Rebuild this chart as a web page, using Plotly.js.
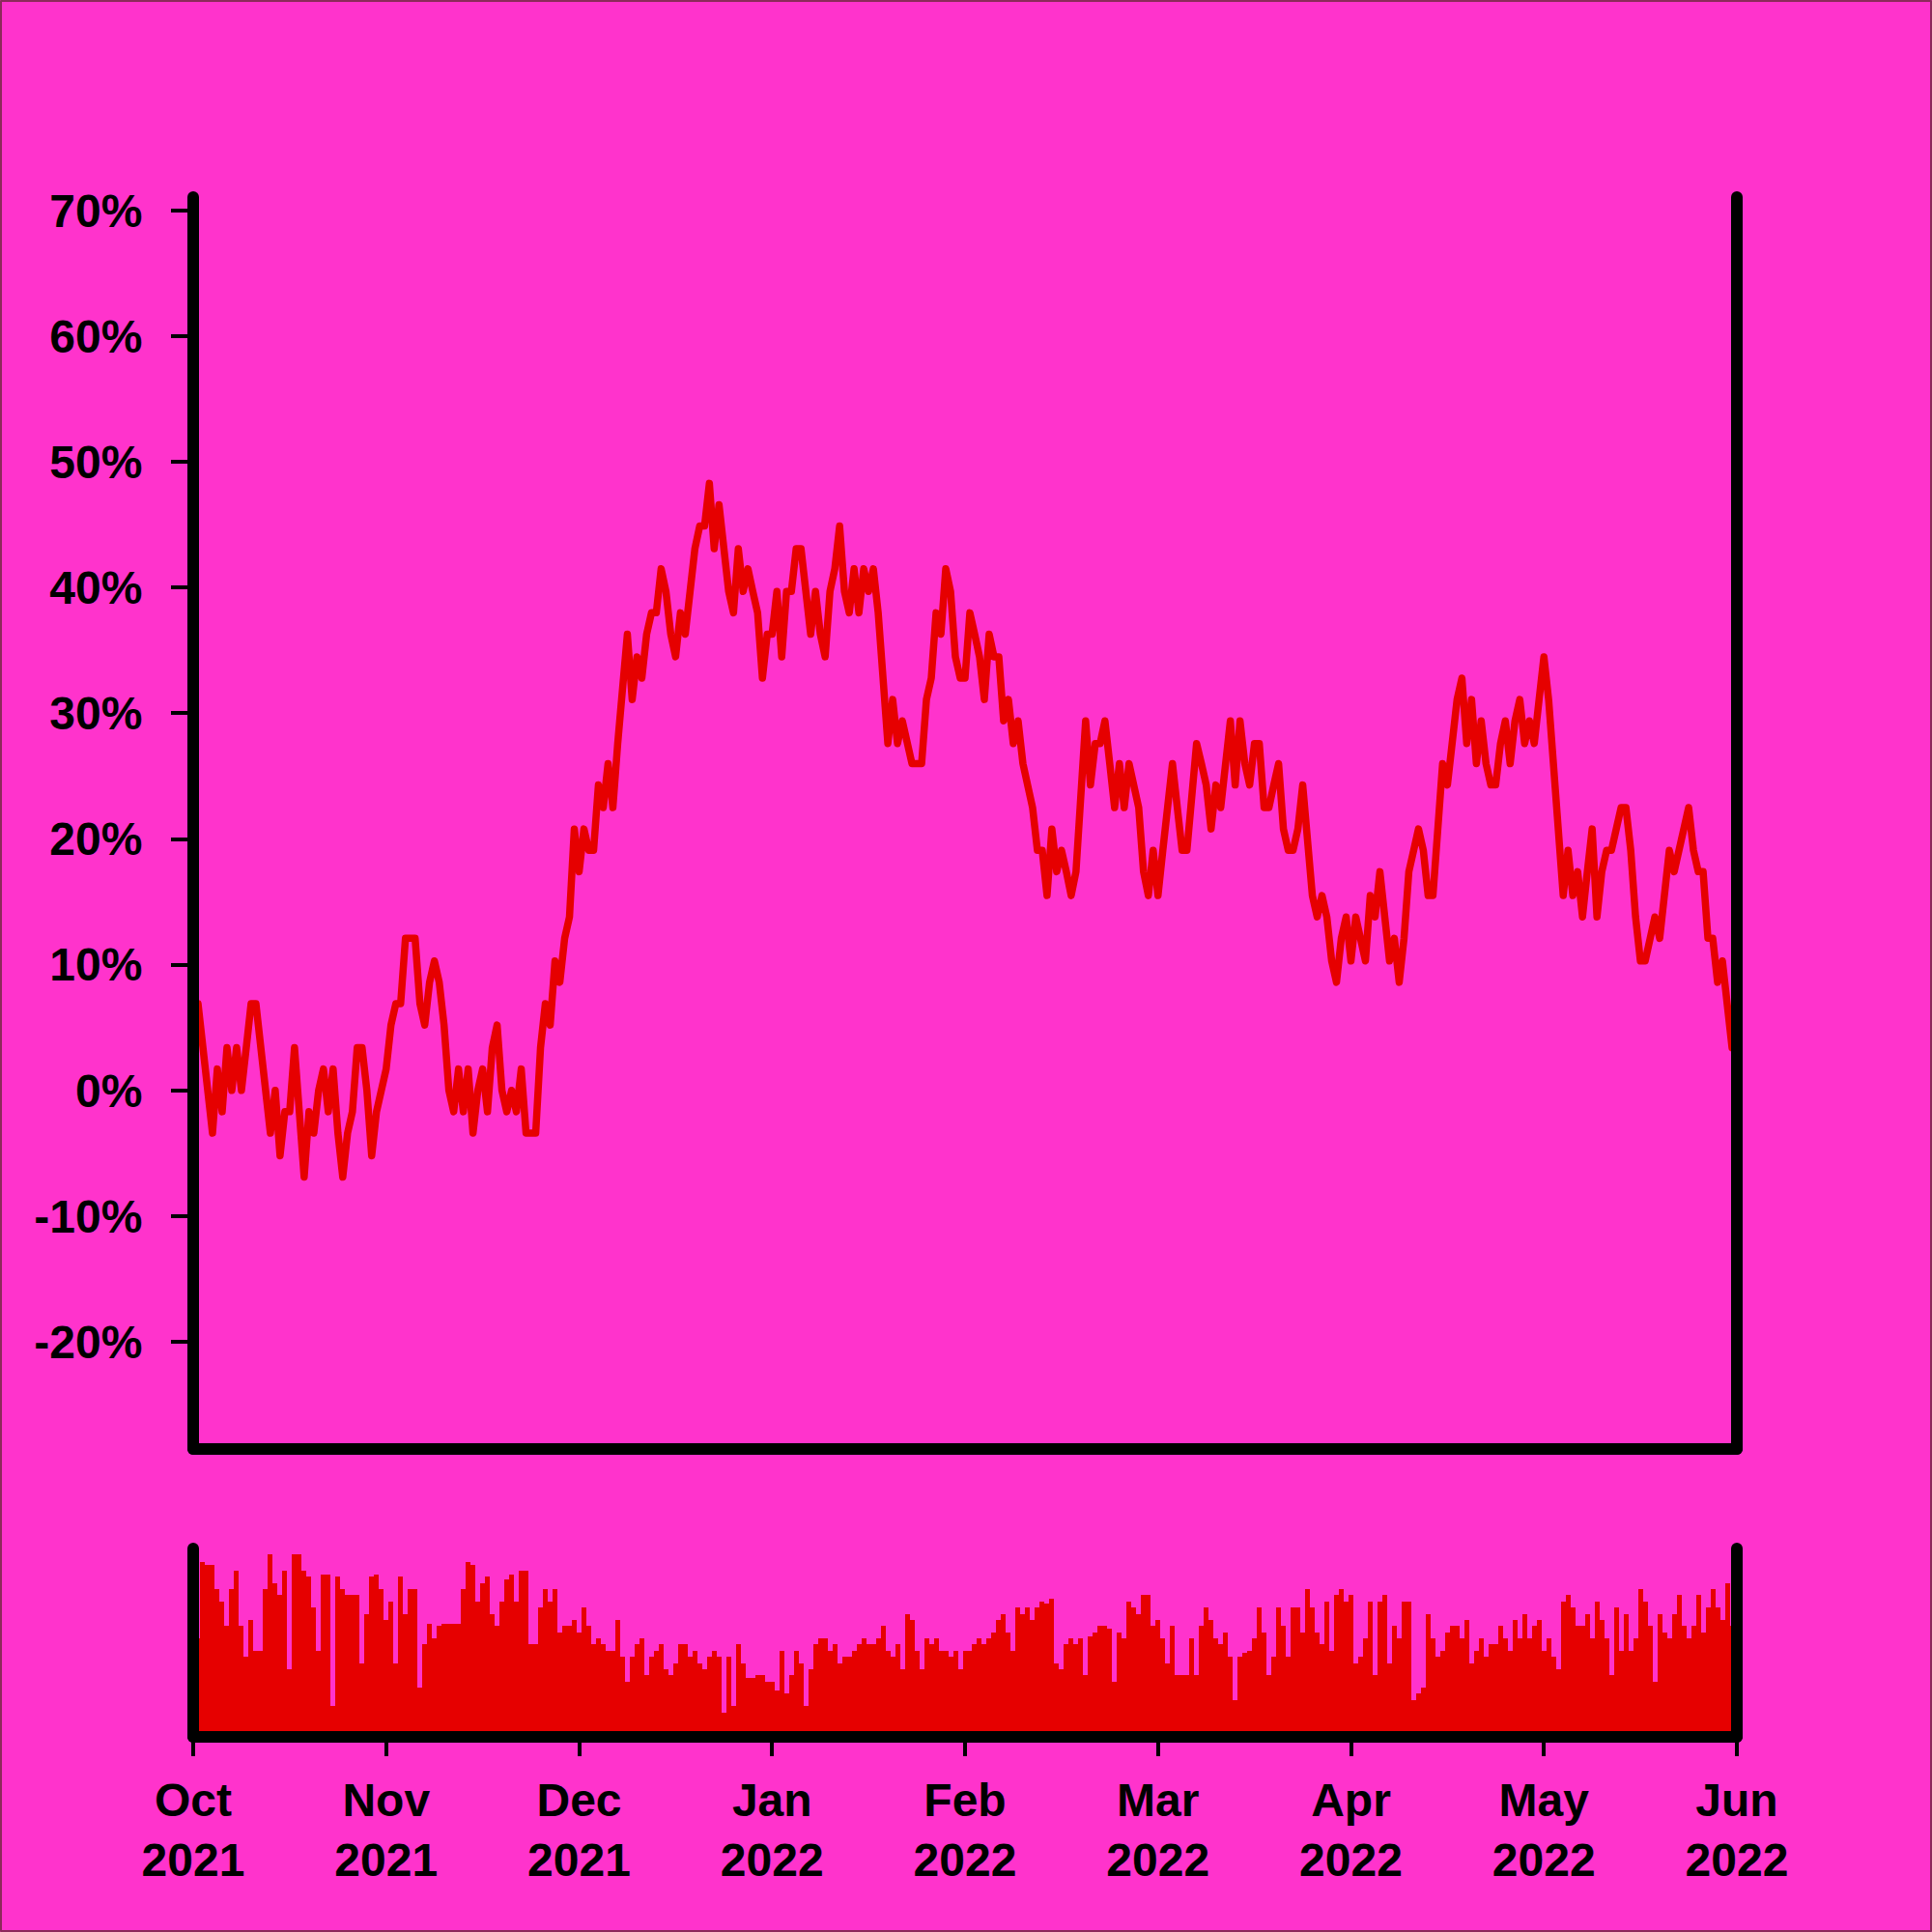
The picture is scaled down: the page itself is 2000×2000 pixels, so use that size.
<!DOCTYPE html>
<html>
<head>
<meta charset="utf-8">
<script src="https://cdn.plot.ly/plotly-3.0.1.min.js"></script>
<style>
html,body{margin:0;padding:0;background:#FF33CC;}
#chart{width:2000px;height:2000px;}
#chart path.js-line{stroke-linejoin:round !important;stroke-linecap:round !important;}
#chart .shapelayer path{stroke-linecap:round !important;stroke-linejoin:round !important;}
</style>
</head>
<body>
<div id="chart"></div>
<script>
// Month tick labels (evenly spaced on the index axis)
const monthLabels = ['Oct<br>2021','Nov<br>2021','Dec<br>2021','Jan<br>2022','Feb<br>2022','Mar<br>2022','Apr<br>2022','May<br>2022','Jun<br>2022'];
const pointsPerMonth = 40;

// Cumulative change, %
const changePct = [
  6.9, 3.4, 0, -3.4, 1.7, -1.7, 3.4, 0, 3.4, 0,
  3.4, 6.9, 6.9, 3.4, 0, -3.4, 0, -5.2, -1.7, -1.7,
  3.4, -1.7, -6.9, -1.7, -3.4, 0, 1.7, -1.7, 1.7, -3.4,
  -6.9, -3.4, -1.7, 3.4, 3.4, 0, -5.2, -1.7, 0,
  1.7, 5.2, 6.9, 6.9, 12.1, 12.1, 12.1, 6.9, 5.2, 8.6, 10.3,
  8.6, 5.2, 0, -1.7, 1.7, -1.7, 1.7, -3.4, 0, 1.7,
  -1.7, 3.4, 5.2, 0, -1.7, 0, -1.7, 1.7, -3.4, -3.4,
  -3.4, 3.4, 6.9, 5.2, 10.3, 8.6, 12.1, 13.8, 20.8, 17.4,
  20.8, 19.1, 19.1, 24.3, 22.5, 26, 22.5, 27.6, 32, 36.3,
  31.1, 34.5, 32.8, 36.3, 38, 38, 41.5, 39.7, 36.3, 34.5,
  38, 36.3, 39.7, 43.1, 44.9, 44.9, 48.3, 43.1, 46.6, 43.1,
  39.7, 38, 43.1, 39.7, 41.5, 39.7, 38, 32.8, 36.3, 36.3,
  39.7, 34.5, 39.7, 39.7, 43.1, 43.1, 39.7, 36.3, 39.7, 36.3,
  34.5, 39.7, 41.5, 44.9, 39.7, 38, 41.5, 38, 41.5, 39.7,
  41.5, 38, 32.8, 27.6, 31.1, 27.6, 29.4, 27.6, 26, 26,
  26, 31.1, 32.8, 38, 36.3, 41.5, 39.7, 34.5, 32.8, 32.8,
  38, 36.3, 34.5, 31.1, 36.3, 34.5, 34.5, 29.4, 31.1, 27.6,
  29.4, 26, 24.3, 22.5, 19.1, 19.1, 15.5, 20.8, 17.4, 19.1,
  17.4, 15.5, 17.4, 22.5, 29.4, 24.3, 27.6, 27.6, 29.4, 26,
  22.5, 26, 22.5, 26, 24.3, 22.5, 17.4, 15.5, 19.1, 15.5,
  19.1, 22.5, 26, 22.5, 19.1, 19.1, 24.3, 27.6, 26, 24.3,
  20.8, 24.3, 22.5, 26, 29.4, 24.3, 29.4, 26, 24.3, 27.6,
  27.6, 22.5, 22.5, 24.3, 26, 20.8, 19.1, 19.1, 20.8, 24.3,
  19.1, 15.5, 13.8, 15.5, 13.8, 10.3, 8.6, 12.1, 13.8, 10.3,
  13.8, 12.1, 10.3, 15.5, 13.8, 17.4, 13.8, 10.3, 12.1, 8.6,
  12.1, 17.4, 19.1, 20.8, 19.1, 15.5, 15.5, 20.8, 26, 24.3,
  27.6, 31.1, 32.8, 27.6, 31.1, 26, 29.4, 26, 24.3, 24.3,
  27.6, 29.4, 26, 29.4, 31.1, 27.6, 29.4, 27.6, 31.1, 34.5,
  31, 26, 20.8, 15.5, 19.1, 15.5, 17.4, 13.8, 17.4, 20.8,
  13.8, 17.4, 19.1, 19.1, 20.8, 22.5, 22.5, 19.1, 13.8, 10.3,
  10.3, 12.1, 13.8, 12.1, 15.5, 19.1, 17.4, 19.1, 20.8, 22.5,
  19.1, 17.4, 17.4, 12.1, 12.1, 8.6, 10.3, 6.9, 3.4
];

// Volume (arbitrary units)
const volume = [
  80,142,140,140,120,110,90,120,135,90,65,95,70,70,120,148,125,115,135,55,
  148,148,135,130,105,70,132,132,25,130,120,115,115,115,60,100,130,132,120,
  95,110,60,130,100,120,120,40,75,92,80,90,92,92,92,92,120,142,140,110,
  125,130,100,90,110,128,132,110,135,135,75,75,105,120,110,120,85,90,90,95,
  85,105,90,75,80,75,70,70,95,65,45,65,75,80,50,65,70,75,55,50,
  60,75,75,65,70,60,55,65,70,65,20,65,25,75,60,48,48,50,50,45,
  45,38,70,35,50,70,60,25,55,75,80,80,70,75,60,65,65,70,75,80,
  75,75,80,90,70,65,75,55,100,95,70,55,80,75,80,70,70,65,70,55,
  70,70,75,80,75,80,85,95,100,85,70,105,100,105,95,105,110,108,112,60,
  55,75,80,75,80,50,82,85,90,90,88,45,85,80,110,105,100,115,115,90,
  95,80,60,90,50,50,50,80,50,90,105,95,80,75,85,65,30,65,68,70,
  80,105,85,50,65,105,90,65,105,105,85,120,105,85,75,110,70,115,120,110,
  115,60,65,80,110,50,110,115,60,90,80,110,110,30,35,40,100,80,65,70,
  85,90,90,80,95,60,70,80,65,75,75,90,80,70,95,80,100,80,90,95,
  70,80,65,55,110,115,105,90,90,100,80,110,95,80,50,105,70,100,70,80,
  120,110,90,45,100,85,80,100,115,90,80,90,115,85,105,120,105,95,125,90
];

const xIdx = changePct.map((_, i) => i + 1);
const tickPos = monthLabels.map((_, i) => i * pointsPerMonth);
const xMax = (monthLabels.length - 1) * pointsPerMonth;

const yTickVals = [-20, -10, 0, 10, 20, 30, 40, 50, 60, 70];
const yTickText = yTickVals.map(v => v + '%');

const RED = '#E60000';
const BG = '#FF33CC';
const INK = '#000000';
const tickFont = {family: 'Liberation Sans, Arial, sans-serif', size: 48, color: INK, weight: 'bold'};

const traces = [
  {
    type: 'scatter', mode: 'lines', x: xIdx, y: changePct,
    line: {color: RED, width: 7.5, shape: 'linear'},
    xaxis: 'x', yaxis: 'y', hoverinfo: 'skip'
  },
  {
    type: 'bar', x: xIdx.slice(0, volume.length), y: volume,
    marker: {color: RED, line: {width: 0}},
    width: 1.0,
    xaxis: 'x2', yaxis: 'y2', hoverinfo: 'skip'
  }
];

const noLine = {showline: false, zeroline: false, showgrid: false, fixedrange: true};

// frame lines drawn as shapes so that they sit centred on the plot edges
function frame(xr, yr) {
  const s = {type: 'line', xref: xr + ' domain', yref: yr + ' domain', layer: 'above', line: {color: INK, width: 12}};
  return [
    Object.assign({}, s, {x0: 0, x1: 0, y0: 0, y1: 1}),
    Object.assign({}, s, {x0: 1, x1: 1, y0: 0, y1: 1}),
    Object.assign({}, s, {x0: 0, x1: 1, y0: 0, y1: 0})
  ];
}

const W = 2000, H = 2000;
const M = {l: 200, r: 202, t: 204, b: 202};
const plotW = W - M.l - M.r, plotH = H - M.t - M.b;

const layout = {
  width: W, height: H,
  paper_bgcolor: BG, plot_bgcolor: BG,
  showlegend: false,
  bargap: 0,
  margin: Object.assign({pad: 0}, M),
  xaxis: Object.assign({}, noLine, {
    domain: [0, 1], anchor: 'y', range: [0, xMax],
    showticklabels: false, ticks: ''
  }),
  yaxis: Object.assign({}, noLine, {
    domain: [0.187, 1], anchor: 'x', range: [-28.53, 71.08],
    tickmode: 'array', tickvals: yTickVals, ticktext: yTickText,
    ticks: 'outside', ticklen: 22, tickwidth: 4, tickcolor: INK,
    ticklabelstandoff: 20,
    tickfont: tickFont
  }),
  xaxis2: Object.assign({}, noLine, {
    domain: [0, 1], anchor: 'y2', range: [0, xMax],
    tickmode: 'array', tickvals: tickPos, ticktext: monthLabels,
    ticks: 'outside', ticklen: 19, tickwidth: 4, tickcolor: INK,
    ticklabelstandoff: 4,
    tickfont: tickFont
  }),
  yaxis2: Object.assign({}, noLine, {
    domain: [0, 0.1223], anchor: 'x2', range: [0, 153],
    showticklabels: false, ticks: ''
  }),
  shapes: [].concat(
    frame('x', 'y'),
    frame('x2', 'y2'),
    [{type: 'rect', xref: 'paper', yref: 'paper',
      x0: -(M.l - 1) / plotW, x1: 1 + (M.r - 1) / plotW,
      y0: -(M.b - 1) / plotH, y1: 1 + (M.t - 1) / plotH,
      layer: 'above', line: {color: '#8C2A5A', width: 2}, fillcolor: 'rgba(0,0,0,0)'}]
  )
};

Plotly.newPlot('chart', traces, layout, {staticPlot: true, displayModeBar: false});
</script>
</body>
</html>
